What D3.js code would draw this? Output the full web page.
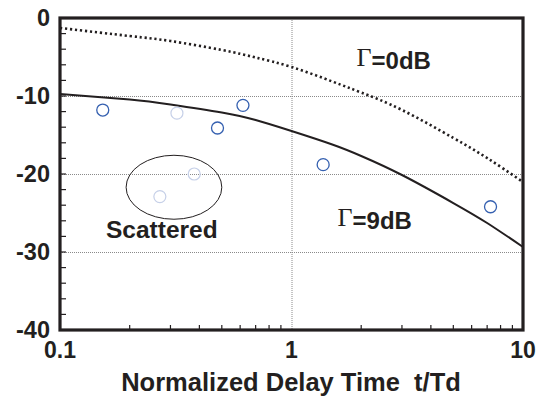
<!DOCTYPE html>
<html>
<head>
<meta charset="utf-8">
<script src="https://cdn.jsdelivr.net/npm/d3@7"></script>
<style>
  body { margin: 0; background: #fff; }
  text { font-family: "Liberation Sans", Arial, sans-serif; font-weight: bold; fill: #231f20; }
</style>
</head>
<body>
<svg id="chart" width="545" height="398"></svg>
<script>
// tick values
var xTicks = [0.1, 1, 10];
var yTicks = [0, -10, -20, -30, -40];

// shared x positions of the two model curves
var curveX = [0.1, 0.2, 0.3, 0.5, 0.7, 1, 1.5, 2, 3, 5, 7, 10];
// Gamma = 0 dB curve (dotted)
var g0y = [-1.28, -2.31, -2.95, -4.10, -5.06, -6.28, -8.14, -9.55, -11.79, -15.38, -17.95, -21.03];
// Gamma = 9 dB curve (solid)
var g9y = [-9.74, -10.45, -11.09, -12.12, -13.08, -14.49, -16.22, -17.69, -20.13, -23.72, -26.28, -29.36];

// measured points
var ptX = [0.153, 0.479, 0.617, 1.37, 7.24];
var ptY = [-11.8, -14.1, -11.2, -18.8, -24.2];
// faint (scattered) points
var faintX = [0.32, 0.38, 0.27];
var faintY = [-12.2, -20.0, -22.9];

// scattered ellipse bounds (data units)
var ellX = [0.193, 0.5];
var ellY = [-17.6, -25.8];

var svg = d3.select("#chart");
var pL = 60, pR = 523, pT = 18, pB = 330;

var x = d3.scaleLog().domain([0.1, 10]).range([pL, pR]);
var y = d3.scaleLinear().domain([-40, 0]).range([pB, pT]);

// grid lines
var grid = svg.append("g").attr("stroke", "#8a8a8a").attr("stroke-width", 1).attr("stroke-dasharray", "1,1");
[-10, -20, -30].forEach(function (v) {
  grid.append("line").attr("x1", pL).attr("x2", pR).attr("y1", y(v) + 0.5).attr("y2", y(v) + 0.5);
});
grid.append("line").attr("x1", x(1) + 0.5).attr("x2", x(1) + 0.5).attr("y1", pT).attr("y2", pB);

// minor ticks (inward)
var yMinor = d3.range(-38, 0, 2);
svg.append("g").selectAll("line").data(yMinor).enter().append("line")
  .attr("x1", pL).attr("x2", pL + 6)
  .attr("y1", function (d) { return y(d); }).attr("y2", function (d) { return y(d); })
  .attr("stroke", "#231f20").attr("stroke-width", 1.2);
var xMinor = [];
[0.1, 1].forEach(function (b) { for (var k = 2; k <= 9; k++) xMinor.push(b * k); });
svg.append("g").selectAll("line").data(xMinor).enter().append("line")
  .attr("x1", function (d) { return x(d); }).attr("x2", function (d) { return x(d); })
  .attr("y1", pB).attr("y2", pB - 5)
  .attr("stroke", "#231f20").attr("stroke-width", 1.2);

// tick labels
svg.append("g").selectAll("text").data(yTicks).enter().append("text")
  .attr("x", pL - 10).attr("y", function (d) { return y(d); })
  .attr("dy", "0.36em").attr("text-anchor", "end").attr("font-size", 23.5)
  .text(function (d) { return d; });
svg.append("g").selectAll("text").data(xTicks).enter().append("text")
  .attr("x", function (d) { return x(d); }).attr("y", 358)
  .attr("text-anchor", "middle").attr("font-size", 23)
  .text(function (d) { return d; });

// axis title
svg.append("text").attr("x", 291).attr("y", 391)
  .attr("text-anchor", "middle").attr("font-size", 25.5)
  .attr("xml:space", "preserve")
  .text("Normalized Delay Time  t/Td");

// curves
var line = d3.line().x(function (d) { return x(d[0]); }).y(function (d) { return y(d[1]); }).curve(d3.curveNatural);
svg.append("path").datum(d3.zip(curveX, g0y)).attr("d", line)
  .attr("fill", "none").attr("stroke", "#231f20").attr("stroke-width", 2.6).attr("stroke-dasharray", "2.2,2.8");
svg.append("path").datum(d3.zip(curveX, g9y)).attr("d", line)
  .attr("fill", "none").attr("stroke", "#231f20").attr("stroke-width", 2);

// points
svg.append("g").selectAll("circle").data(d3.zip(ptX, ptY)).enter().append("circle")
  .attr("cx", function (d) { return x(d[0]); }).attr("cy", function (d) { return y(d[1]); })
  .attr("r", 6).attr("fill", "none").attr("stroke", "#3560b0").attr("stroke-width", 1.3);
svg.append("g").selectAll("circle").data(d3.zip(faintX, faintY)).enter().append("circle")
  .attr("cx", function (d) { return x(d[0]); }).attr("cy", function (d) { return y(d[1]); })
  .attr("r", 6).attr("fill", "none").attr("stroke", "#c6d0e8").attr("stroke-width", 1.2);

// ellipse round the scattered points
var ex0 = x(ellX[0]), ex1 = x(ellX[1]), ey0 = y(ellY[0]), ey1 = y(ellY[1]);
svg.append("ellipse")
  .attr("cx", (ex0 + ex1) / 2).attr("cy", (ey0 + ey1) / 2)
  .attr("rx", (ex1 - ex0) / 2).attr("ry", (ey1 - ey0) / 2)
  .attr("fill", "none").attr("stroke", "#231f20").attr("stroke-width", 1);

// annotations
function gammaLabel(xv, yv, txt) {
  var t = svg.append("text").attr("x", x(xv)).attr("y", y(yv)).attr("font-size", 24);
  t.append("tspan").attr("font-family", "'Liberation Serif', 'Times New Roman', serif")
    .attr("font-weight", "normal").attr("font-size", 26).attr("dy", -3).text("Γ");
  t.append("tspan").attr("dy", 3).text(txt);
}
gammaLabel(1.91, -6.6, "=0dB");
gammaLabel(1.58, -27.0, "=9dB");
svg.append("text").attr("x", x(0.158)).attr("y", y(-28.2)).attr("font-size", 24.5).text("Scattered");

// frame
svg.append("rect").attr("x", pL).attr("y", pT).attr("width", pR - pL).attr("height", pB - pT)
  .attr("fill", "none").attr("stroke", "#231f20").attr("stroke-width", 3.2);
</script>
</body>
</html>
